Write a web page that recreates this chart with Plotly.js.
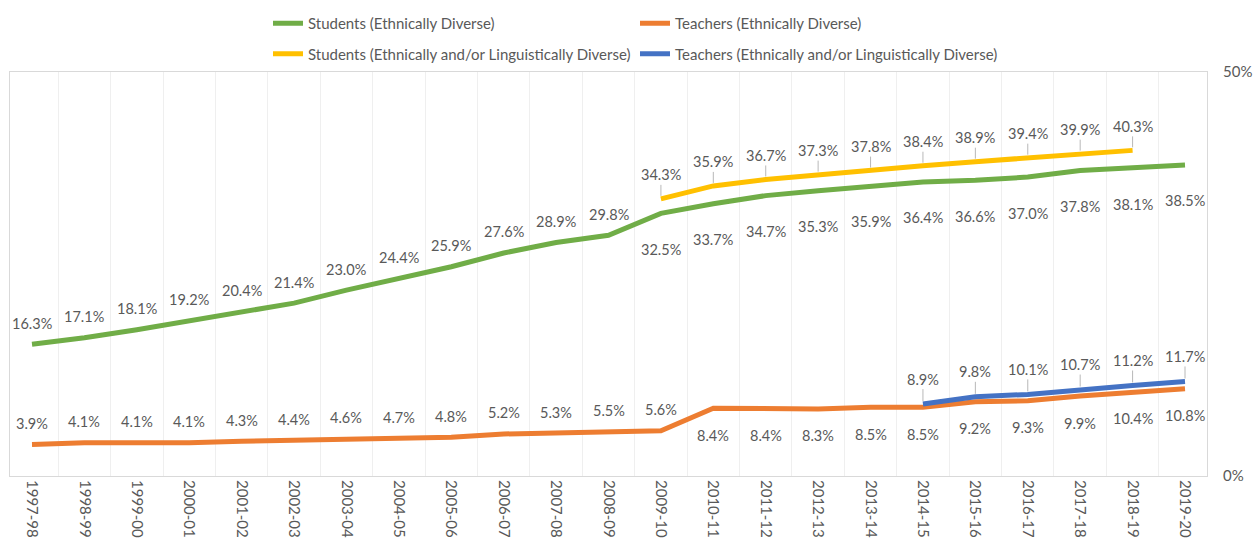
<!DOCTYPE html>
<html><head><meta charset="utf-8">
<script src="https://cdn.plot.ly/plotly-3.0.1.min.js"></script>
<style>html,body{margin:0;padding:0;background:#fff}#chart{width:1255px;height:539px}</style>
</head><body><div id="chart"></div>
<script>
const years = ["1997-98","1998-99","1999-00","2000-01","2001-02","2002-03","2003-04","2004-05","2005-06","2006-07","2007-08","2008-09","2009-10","2010-11","2011-12","2012-13","2013-14","2014-15","2015-16","2016-17","2017-18","2018-19","2019-20"];
const studentsEth = [16.3,17.1,18.1,19.2,20.4,21.4,23.0,24.4,25.9,27.6,28.9,29.8,32.5,33.7,34.7,35.3,35.9,36.4,36.6,37.0,37.8,38.1,38.5];
const teachersEth = [3.9,4.1,4.1,4.1,4.3,4.4,4.6,4.7,4.8,5.2,5.3,5.5,5.6,8.4,8.4,8.3,8.5,8.5,9.2,9.3,9.9,10.4,10.8];
const studentsEthLing = [null,null,null,null,null,null,null,null,null,null,null,null,34.3,35.9,36.7,37.3,37.8,38.4,38.9,39.4,39.9,40.3,null];
const teachersEthLing = [null,null,null,null,null,null,null,null,null,null,null,null,null,null,null,null,null,8.9,9.8,10.1,10.7,11.2,11.7];
const yTicks = [0, 50];

const FONT = "Lato, 'Open Sans', sans-serif";
const TXT = "#595959";
const cGreen = "#70AD47", cOrange = "#ED7D31", cYellow = "#FFC000", cBlue = "#4472C4";

function tr(name, y, color, legend, group) {
  return {x: years, y: y, name: name, type: "scatter", mode: "lines",
    line: {color: color, width: 5}, connectgaps: false, legend: legend, legendgroup: group,
    hoverinfo: "skip"};
}
const data = [
  tr("Students (Ethnically Diverse)", studentsEth, cGreen, "legend", "a"),
  tr("Teachers (Ethnically Diverse)", teachersEth, cOrange, "legend2", "c"),
  tr("Students (Ethnically and/or Linguistically Diverse)", studentsEthLing, cYellow, "legend", "b"),
  tr("Teachers (Ethnically and/or Linguistically Diverse)", teachersEthLing, cBlue, "legend2", "d")
];

const LBL = {family: FONT, size: 14.5, color: TXT};
const ann = [];
function plain(vals, splitIdx, upShift, downShift) {
  vals.forEach((v, i) => {
    if (v === null) return;
    ann.push({x: years[i], y: v, text: v.toFixed(1) + "%", showarrow: false,
      yshift: i < splitIdx ? upShift : downShift, font: LBL});
  });
}
function leader(vals, ay) {
  vals.forEach((v, i) => {
    if (v === null) return;
    ann.push({x: years[i], y: v, text: v.toFixed(1) + "%", showarrow: true, arrowhead: 0,
      arrowwidth: 0.8, arrowcolor: "#a6a6a6", ax: 0, ay: ay, standoff: 3, font: LBL});
  });
}
plain(studentsEth, 12, 21, -36);
plain(teachersEth, 13, 21, -27);
leader(studentsEthLing, -24);
leader(teachersEthLing, -25);

const legBase = {xref: "container", yref: "container", y: 1 - 7/539, xanchor: "left", yanchor: "top",
  orientation: "v", tracegroupgap: 8, font: {family: FONT, size: 15, color: TXT}, bgcolor: "rgba(0,0,0,0)"};

const layout = {
  width: 1255, height: 539,
  margin: {l: 10, r: 48, t: 72, b: 63, autoexpand: false},
  paper_bgcolor: "#fff", plot_bgcolor: "#fff",
  font: {family: FONT, color: TXT, size: 14},
  showlegend: true,
  legend: Object.assign({}, legBase, {x: 268/1255}),
  legend2: Object.assign({}, legBase, {x: 635/1255}),
  xaxis: {type: "category", tickmode: "array", tickvals: years, ticktext: years, tickangle: 90,
    tickson: "boundaries", showgrid: true, gridcolor: "#efefef",
    gridwidth: 1, ticks: "", showline: true, linecolor: "#d9d9d9", mirror: true, zeroline: false,
    tickfont: {family: FONT, size: 15, color: TXT}, automargin: false, fixedrange: true},
  yaxis: {side: "right", range: [0, 50], tickvals: yTicks, ticktext: yTicks.map(v => v + "%"),
    showgrid: false, zeroline: false, showline: true, linecolor: "#d9d9d9", mirror: true, ticks: "",
    ticklabelstandoff: 12, tickfont: {family: FONT, size: 15, color: TXT}, automargin: false, fixedrange: true},
  annotations: ann
};
Plotly.newPlot("chart", data, layout, {displayModeBar: false, staticPlot: true});
</script></body></html>
